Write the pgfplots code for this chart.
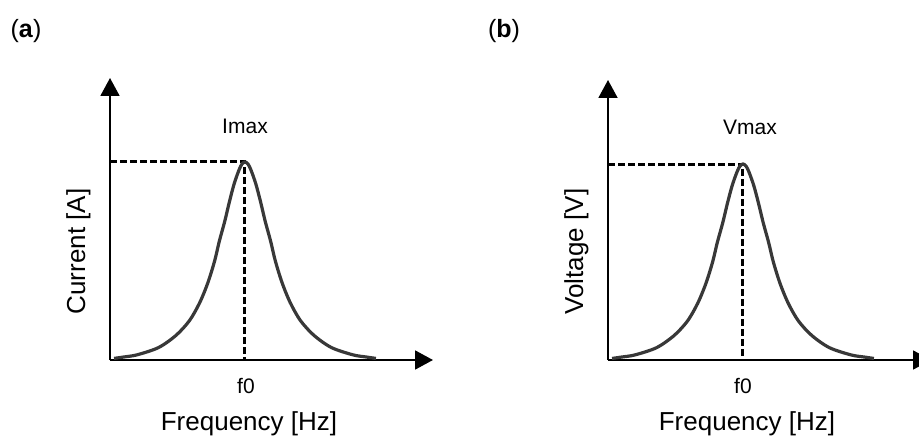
\documentclass[border=0pt]{standalone}
\usepackage{pgfplots}
\usepackage{pgfplotstable}
\pgfplotsset{compat=1.18}
\usepackage{fontspec}
\setmainfont{Liberation Sans}
\usetikzlibrary{arrows.meta}

% Resonance curve: normalised frequency f/f0 against normalised amplitude
\pgfplotstableread{
f      h
0.030  0.008
0.100  0.015
0.200  0.026
0.360  0.063
0.490  0.125
0.590  0.200
0.665  0.290
0.725  0.390
0.775  0.500
0.810  0.600
0.850  0.700
0.885  0.800
0.920  0.890
0.956  0.960
0.978  0.990
1.000  1.000
1.022  0.990
1.044  0.960
1.080  0.890
1.115  0.800
1.150  0.700
1.190  0.600
1.225  0.500
1.275  0.390
1.335  0.290
1.410  0.200
1.510  0.125
1.640  0.063
1.800  0.026
1.900  0.015
1.970  0.008
}\resonance

\newcommand{\fs}[1]{\fontsize{#1}{#1}\selectfont}

\pgfplotsset{
  resonance axis/.style={
    scale only axis,
    width=323pt,
    xmin=0, xmax=2.393,
    ymin=0,
    axis lines=left,
    xtick=\empty, ytick=\empty,
    clip=false,
    axis line style={line width=1.9pt, -{Triangle[length=18pt,width=19pt]}},
  },
}

\begin{document}
\begin{tikzpicture}[x=1pt,y=1pt]
\path[use as bounding box, clip] (0,0) rectangle (919,437);

% (a) current resonance
\begin{axis}[resonance axis, at={(110pt,77pt)}, anchor=south west,
             height=282pt, ymax=1.424]
  \addplot[black, line width=3pt, dash pattern=on 7pt off 3pt, mark=none]
    coordinates {(0,1) (1,1) (1,0)};
  \addplot[black!78, line width=3.2pt, smooth, mark=none]
    table[x=f,y=h]{\resonance};
\end{axis}

% (b) voltage resonance
\begin{axis}[resonance axis, at={(608pt,77pt)}, anchor=south west,
             height=280pt, ymax=1.4286]
  \addplot[black, line width=3pt, dash pattern=on 7pt off 3pt, mark=none]
    coordinates {(0,1) (1,1) (1,0)};
  \addplot[black!78, line width=3.2pt, smooth, mark=none]
    table[x=f,y=h]{\resonance};
\end{axis}

\begin{scope}[every node/.style={inner sep=0pt, anchor=base}]
  \node[font=\fs{25}] at (26,399) {(\textbf{a})};
  \node[font=\fs{21}] at (245,303) {Imax};
  \node[font=\fs{21}] at (246,44) {f0};
  \node[font=\fs{26}] at (249,7) {Frequency [Hz]};
  \node[font=\fs{26}, rotate=90] at (85,185.5) {Current [A]};

  \node[font=\fs{25}] at (504,399) {(\textbf{b})};
  \node[font=\fs{21}] at (750,302) {Vmax};
  \node[font=\fs{21}] at (743,44) {f0};
  \node[font=\fs{26}] at (747,7) {Frequency [Hz]};
  \node[font=\fs{26}, rotate=90] at (583,185.5) {Voltage [V]};
\end{scope}
\end{tikzpicture}
\end{document}
